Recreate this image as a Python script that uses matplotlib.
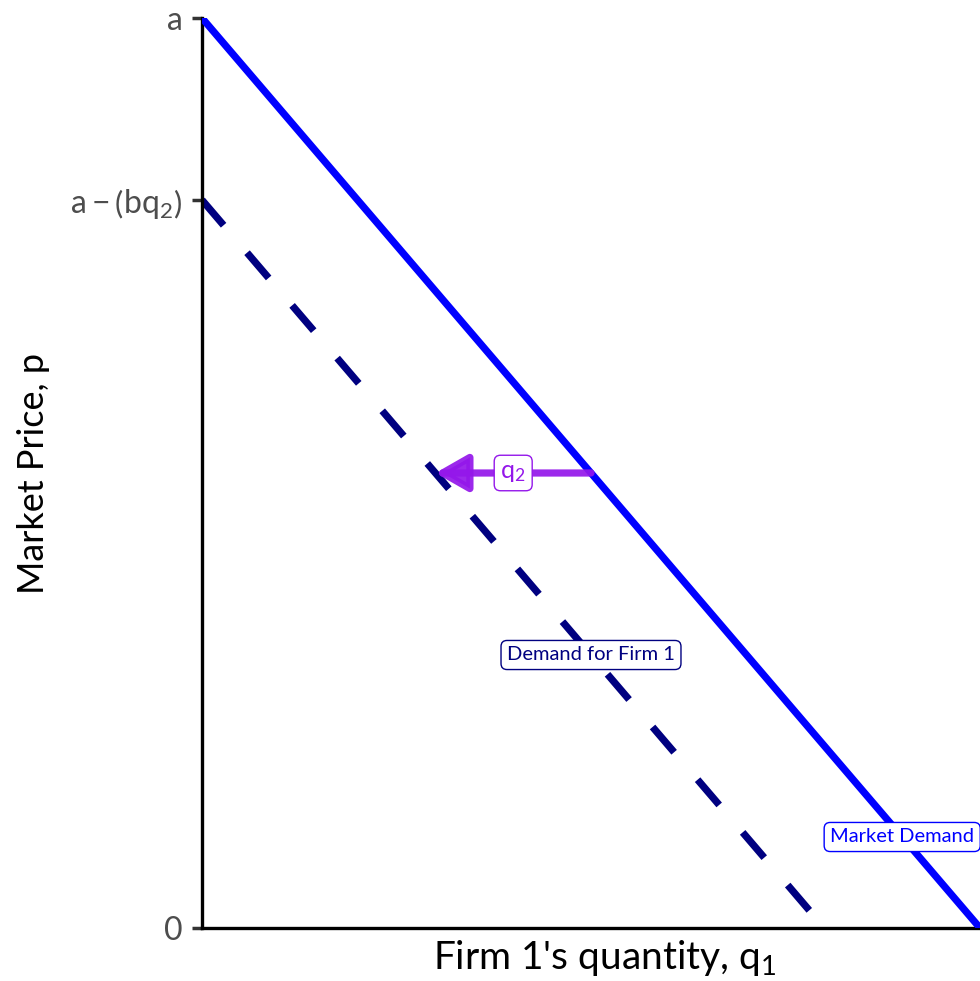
import matplotlib
matplotlib.use("Agg")
import matplotlib.pyplot as plt
import numpy as np

plt.rcParams['font.family'] = ['Lato', 'DejaVu Sans']
plt.rcParams['mathtext.fontset'] = 'custom'
plt.rcParams['mathtext.rm'] = 'Lato'
plt.rcParams['mathtext.it'] = 'Lato'

# Demand model: market demand p = a - b*Q, firm 1 residual demand p = (a - b*q2) - b*q1
a = 10.0
b = 1.0
q2 = 2.0

market_q = [0.0, a / b]
market_p = [a, 0.0]
firm1_q = [0.0, (a - b * q2) / b]
firm1_p = [a - b * q2, 0.0]

# horizontal shift arrow at price level 5
arrow_p = 5.0
arrow_from_q = (a - arrow_p) / b
arrow_to_q = (a - b * q2 - arrow_p) / b

ytick_vals = [0.0, a - b * q2, a]
ytick_labels = ['0', r'$\mathrm{a-\left(bq_2\right)}$', 'a']

label_market = ("Market Demand", 9.0, 1.0)
label_firm1 = ("Demand for Firm 1", 5.0, 3.0)

BLUE = '#0000FF'
NAVY = '#000080'
PURPLE = '#9417EA'

fig = plt.figure(figsize=(9.8, 9.81), dpi=100)
ax = fig.add_axes([202 / 980, 53 / 981, 778 / 980, 910 / 981])

ax.plot(market_q, market_p, color=BLUE, lw=5.2, solid_capstyle='butt', zorder=3)
ax.plot(firm1_q, firm1_p, color=NAVY, lw=5.2, dashes=(4.6, 5.0),
        dash_capstyle='butt', zorder=2)

ax.annotate('', xy=(arrow_to_q, arrow_p), xytext=(arrow_from_q, arrow_p),
            arrowprops=dict(arrowstyle='-|>,head_length=0.7,head_width=0.4',
                            lw=5.2, color=PURPLE, alpha=0.92,
                            shrinkA=0, shrinkB=0, mutation_scale=28),
            zorder=4)
ax.text((arrow_from_q + arrow_to_q) / 2, arrow_p, r'$\mathrm{q_2}$', color=PURPLE,
        fontsize=18, ha='center', va='center', zorder=5,
        bbox=dict(boxstyle='round,pad=0.25,rounding_size=0.25', fc='white',
                  ec=PURPLE, lw=1.0))

for (txt, qx, py), col in [(label_firm1, NAVY), (label_market, BLUE)]:
    ax.text(qx, py, txt, color=col, fontsize=14.5, ha='center', va='center',
            zorder=5, clip_on=True,
            bbox=dict(boxstyle='round,pad=0.3,rounding_size=0.3', fc='white',
                      ec=col, lw=1.0))

ax.set_xlim(0, a / b)
ax.set_ylim(0, a)
ax.set_xticks([])
ax.set_yticks(ytick_vals)
ax.set_yticklabels(ytick_labels)
ax.tick_params(axis='y', length=7, width=2.5, color='#333333', pad=7,
               labelsize=23, labelcolor='#4D4D4D')

for side in ['top', 'right']:
    ax.spines[side].set_visible(False)
for side in ['left', 'bottom']:
    ax.spines[side].set_linewidth(2.4)
    ax.spines[side].set_color('black')

ax.set_xlabel(r"Firm 1's quantity, $\mathrm{q_1}$", fontsize=28, color='black')
ax.xaxis.set_label_coords(0.518, -0.011)
ax.set_ylabel("Market Price, p", fontsize=26, color='black')
ax.yaxis.set_label_coords(-0.196, 0.499)

fig.savefig('out.png', dpi=100)
